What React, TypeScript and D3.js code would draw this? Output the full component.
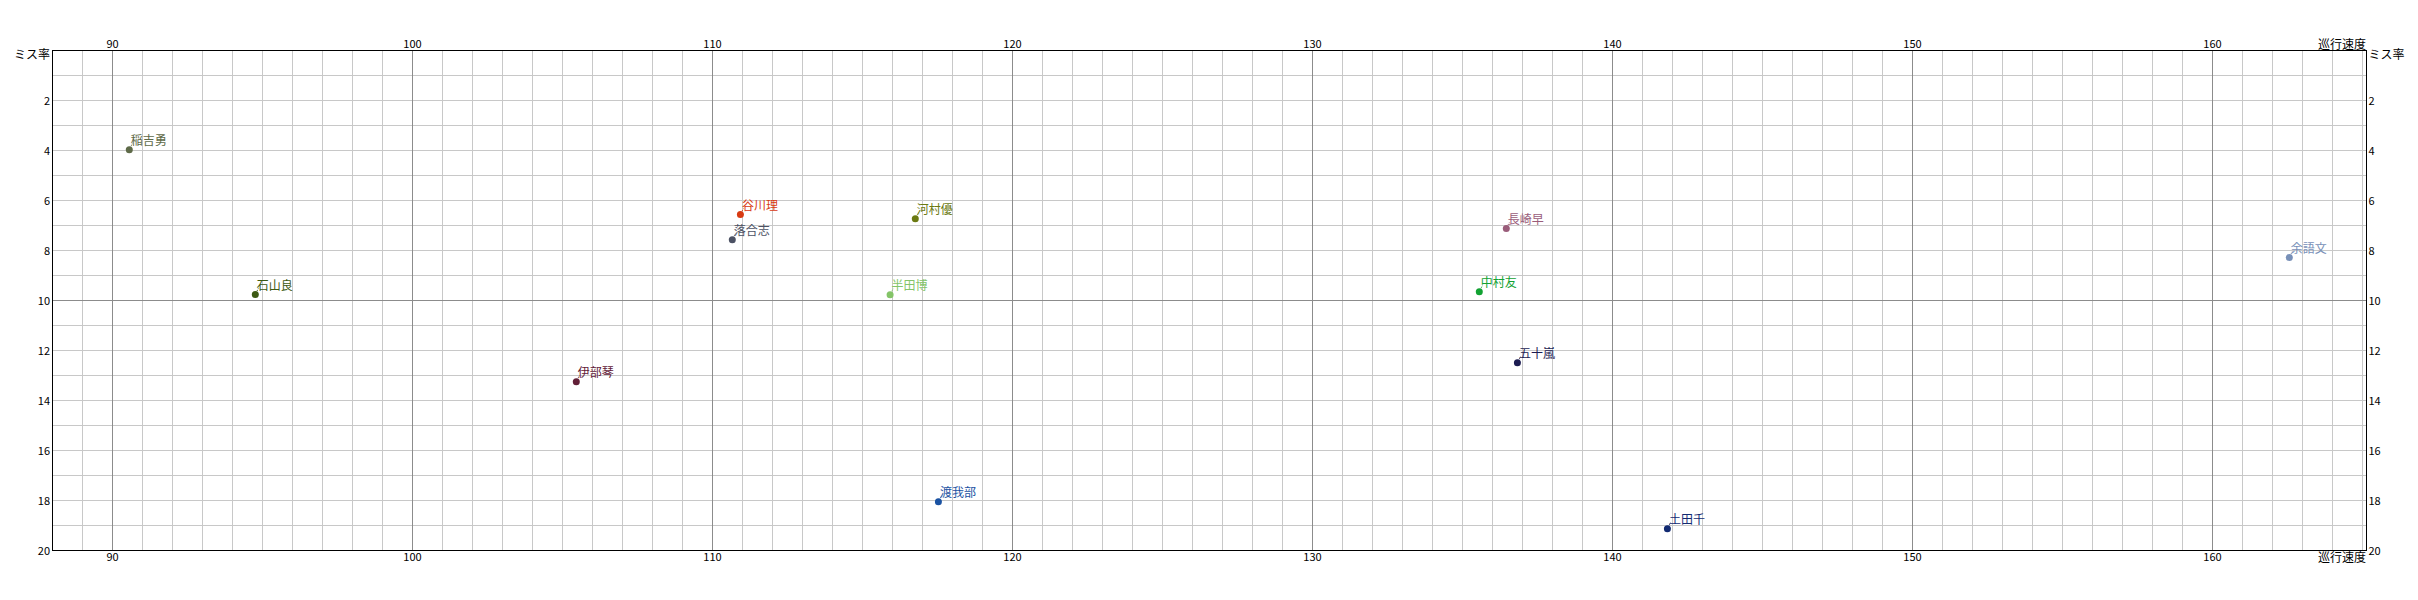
import React from "react";
import * as d3 from "d3";

const names = ["稲吉勇", "石山良", "谷川理", "落合志", "河村優", "半田博", "長崎早", "中村友", "余語文", "伊部琴", "渡我部", "五十嵐", "土田千"];
const speeds = [90.56, 94.76, 110.93, 110.66, 116.76, 115.92, 136.46, 135.56, 162.56, 105.46, 117.53, 136.83, 141.83];
const missRates = [3.97, 9.76, 6.56, 7.57, 6.73, 9.77, 7.12, 9.65, 8.28, 13.25, 18.05, 12.49, 19.13];
const colors = ["#5e6a48", "#3d5a12", "#d83a12", "#4c5264", "#6b7a12", "#84c468", "#9a5c7a", "#12a232", "#7890b8", "#622038", "#1a52a2", "#1c1c52", "#122a72"];
const xTicks = [90, 100, 110, 120, 130, 140, 150, 160];
const yTicks = [2, 4, 6, 8, 10, 12, 14, 16, 18, 20];
const xLabel = "巡行速度";
const yLabel = "ミス率";

const W = 2418;
const H = 600;
const FONT = "'Noto Sans CJK JP', 'Noto Sans', sans-serif";

export default function App() {
  const x = d3.scaleLinear().domain([88, 165.1333]).range([52.5, 2366.5]);
  const y = d3.scaleLinear().domain([0, 20]).range([50.5, 550.5]);
  const xMinor = d3.range(89, 166);
  const yMinor = d3.range(1, 20);
  const left = x(88), right = x(165.1333), top = y(0), bottom = y(20);

  return (
    <svg width={W} height={H} style={{ position: "absolute", left: 0, top: 0, background: "#fff" }} fontFamily={FONT}>
      <g>
        {xMinor.filter((v) => v % 10 !== 0).map((v) => (
          <line key={"xm" + v} x1={x(v)} x2={x(v)} y1={top} y2={bottom} stroke="#c8c8c8" strokeWidth={1} />
        ))}
        {yMinor.filter((v) => v % 10 !== 0).map((v) => (
          <line key={"ym" + v} x1={left} x2={right} y1={y(v)} y2={y(v)} stroke="#c8c8c8" strokeWidth={1} />
        ))}
        {xMinor.filter((v) => v % 10 === 0).map((v) => (
          <line key={"xM" + v} x1={x(v)} x2={x(v)} y1={top} y2={bottom} stroke="#8c8c8c" strokeWidth={1} />
        ))}
        {yMinor.filter((v) => v % 10 === 0).map((v) => (
          <line key={"yM" + v} x1={left} x2={right} y1={y(v)} y2={y(v)} stroke="#8c8c8c" strokeWidth={1} />
        ))}
        <rect x={left} y={top} width={right - left} height={bottom - top} fill="none" stroke="#000" strokeWidth={1} />
      </g>
      <g fontSize={11} fill="#000">
        {xTicks.map((v) => (
          <text key={"xt" + v} x={x(v)} y={48} textAnchor="middle">{v}</text>
        ))}
        {xTicks.map((v) => (
          <text key={"xb" + v} x={x(v)} y={561} textAnchor="middle">{v}</text>
        ))}
        {yTicks.map((v) => (
          <text key={"yl" + v} x={50} y={y(v) + 4} textAnchor="end">{v}</text>
        ))}
        {yTicks.map((v) => (
          <text key={"yr" + v} x={2368.5} y={y(v) + 4} textAnchor="start">{v}</text>
        ))}
      </g>
      <g fontSize={12} fill="#000">
        <text x={50} y={59} textAnchor="end">{yLabel}</text>
        <text x={2368.5} y={59} textAnchor="start">{yLabel}</text>
        <text x={2366} y={49} textAnchor="end">{xLabel}</text>
        <text x={2366} y={562} textAnchor="end">{xLabel}</text>
      </g>
      <g>
        {names.map((n, i) => {
          const cx = x(speeds[i]);
          const cy = y(missRates[i]);
          return (
            <g key={n}>
              <line x1={cx} y1={cy} x2={cx + 3} y2={cy - 6} stroke={colors[i]} strokeWidth={1} strokeDasharray="1,1" />
              <circle cx={cx} cy={cy} r={3.5} fill={colors[i]} />
              <text x={cx + 1.5} y={cy - 4.5} fontSize={12} fill={colors[i]}>{n}</text>
            </g>
          );
        })}
      </g>
    </svg>
  );
}
